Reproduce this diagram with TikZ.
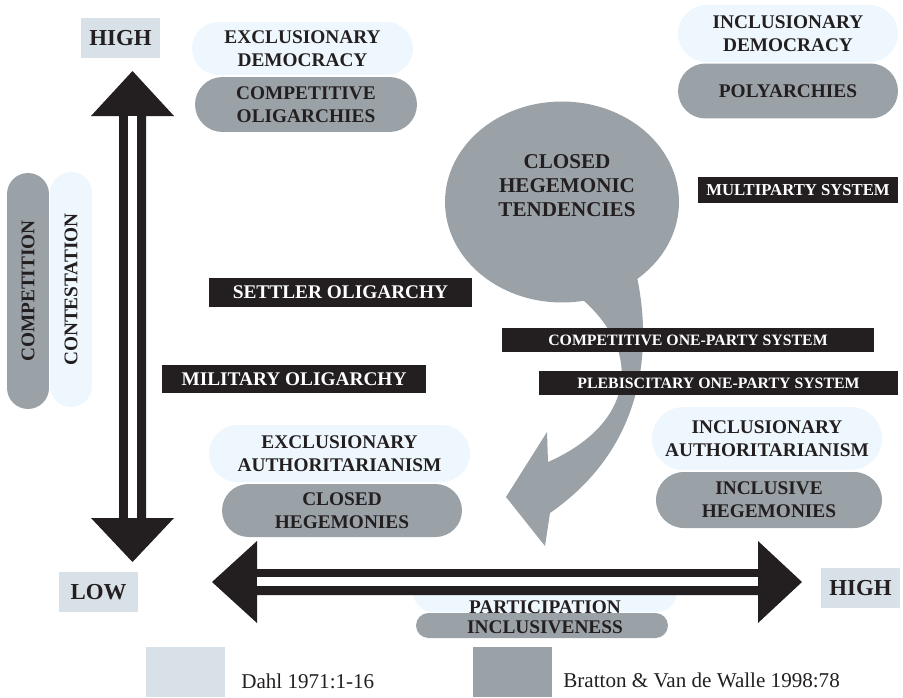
\documentclass[tikz,border=0pt]{standalone}
\usepackage{fontspec}
\setmainfont{Liberation Serif}
\usepackage{xcolor}
\usepackage{tikz}
\usetikzlibrary{shapes.misc,shapes.geometric,positioning,calc}

\definecolor{inkblack}{HTML}{231F20}
\definecolor{palefill}{HTML}{EEF7FD}
\definecolor{midgray}{HTML}{9AA1A7}
\definecolor{scalefill}{HTML}{D9E1E8}

\begin{document}
\begin{tikzpicture}[
    x=0.02cm, y=-0.02cm,
    text=inkblack,
    levelbox/.style={fill=scalefill, minimum width=1.58cm, minimum height=0.8cm, inner sep=0pt, font=\fontsize{13}{15}\selectfont\bfseries},
    regime/.style={rounded rectangle, inner sep=0pt, align=center, font=\fontsize{11}{13}\selectfont\bfseries},
    lightpill/.style={regime, fill=palefill},
    graypill/.style={regime, fill=midgray},
    darkbar/.style={fill=inkblack, text=white, inner sep=0pt, font=\fontsize{11}{13}\selectfont\bfseries},
    smallbar/.style={darkbar, minimum height=0.48cm, font=\fontsize{9}{11}\selectfont\bfseries},
    keybox/.style={minimum width=1.58cm, minimum height=1cm, inner sep=0pt},
    keytext/.style={anchor=west, inner sep=0pt, font=\fontsize{12}{14}\selectfont},
    axisfill/.style={fill=inkblack}
]
    \useasboundingbox (0,0) rectangle (903,697);

    % axis ends
    \coordinate (vhigh) at (132.5,71);
    \coordinate (vlow) at (132.5,562);
    \coordinate (hlow) at (212,582);
    \coordinate (hhigh) at (802,582);

    % vertical axis labels
    \node[graypill, rotate=90, minimum width=4.72cm, minimum height=0.84cm] (competition) at (28,291) {COMPETITION};
    \node[lightpill, rotate=90, minimum width=4.70cm, minimum height=0.84cm] (contestation) at (71,289.5) {CONTESTATION};

    % regime types
    \node[lightpill, minimum width=4.42cm, minimum height=1.06cm] (exdem) at (302.5,48.5) {EXCLUSIONARY\\DEMOCRACY};
    \node[graypill, minimum width=4.44cm, minimum height=1.10cm] (compolig) at (306,104.5) {COMPETITIVE\\OLIGARCHIES};
    \node[lightpill, minimum width=4.40cm, minimum height=1.14cm] (indem) at (788,33.5) {INCLUSIONARY\\DEMOCRACY};
    \node[graypill, minimum width=4.40cm, minimum height=1.10cm] (polyarch) at (788,91) {POLYARCHIES};
    \node[lightpill, minimum width=4.60cm, minimum height=1.26cm] (inauth) at (767,438.5) {INCLUSIONARY\\AUTHORITARIANISM};
    \node[graypill, minimum width=4.52cm, minimum height=1.12cm] (inheg) at (769,500) {INCLUSIVE\\HEGEMONIES};
    \node[lightpill, minimum width=5.22cm, minimum height=1.14cm] (exauth) at (339.5,453.5) {EXCLUSIONARY\\AUTHORITARIANISM};
    \node[graypill, minimum width=4.80cm, minimum height=1.06cm] (clheg) at (342,510.5) {CLOSED\\HEGEMONIES};
    \node[lightpill, minimum width=5.28cm, minimum height=0.80cm] (partic) at (545,592) {};
    \node[graypill, minimum width=5.04cm, minimum height=0.50cm] (inclus) at (542,625.5) {};

    % speech bubble with curved tail
    \node[ellipse, fill=midgray, minimum width=4.68cm, minimum height=4.02cm, inner sep=0pt] (tend) at (562,202) {};
    \fill[midgray] (635,268) .. controls (650,330) and (655,440) .. (550,513)
        -- (545,546) -- (506,497) -- (547,432) -- (548,462)
        .. controls (632,425) and (645,355) .. (583,300) -- cycle;
    \node[align=center, inner sep=0pt, font=\fontsize{12}{13.6}\selectfont\bfseries] (tendtext) at (567,186) {CLOSED\\HEGEMONIC\\TENDENCIES};

    % party systems
    \node[darkbar, minimum width=4.00cm, minimum height=0.52cm, font=\fontsize{9.5}{11}\selectfont\bfseries] (multi) at (798,190) {MULTIPARTY SYSTEM};
    \node[darkbar, minimum width=5.26cm, minimum height=0.58cm] (settler) at (340.5,292.5) {SETTLER OLIGARCHY};
    \node[darkbar, minimum width=5.28cm, minimum height=0.56cm] (military) at (294,379) {MILITARY OLIGARCHY};
    \node[smallbar, minimum width=7.44cm] (compone) at (688,340) {COMPETITIVE ONE-PARTY SYSTEM};
    \node[smallbar, minimum width=7.18cm] (pleb) at (718.5,383) {PLEBISCITARY ONE-PARTY SYSTEM};

    % axes
    \fill[axisfill] (vhigh) -- ++(41.5,45) -- ++(-28,0) -- ++(0,402) -- ++(28,0) -- (vlow)
        -- ++(-41.5,-44) -- ++(28,0) -- ++(0,-402) -- ++(-28,0) -- cycle;
    \fill[white] ($(vhigh)+(-4.5,45)$) rectangle ($(vlow)+(4.5,-44)$);
    \fill[axisfill] (hlow) -- ++(45,-41) -- ++(0,28) -- ++(501,0) -- ++(0,-28) -- (hhigh)
        -- ++(-44,41) -- ++(0,-28) -- ++(-501,0) -- ++(0,28) -- cycle;
    \fill[white] ($(hlow)+(45,-5)$) rectangle ($(hhigh)+(-44,4)$);

    \node[align=center, inner sep=0pt, font=\fontsize{11}{11.3}\selectfont\bfseries] (partlabel) at (545,617) {PARTICIPATION\\INCLUSIVENESS};

    \node[levelbox] (highV) at (120.5,38) {HIGH};
    \node[levelbox] (lowV) at (98.5,592) {LOW};
    \node[levelbox] (highH) at (860.5,588) {HIGH};

    % key
    \node[keybox, fill=scalefill] (dahlsq) at (185.5,672) {};
    \node[keytext] (dahl) at (241,681) {Dahl 1971:1-16};
    \node[keybox, fill=midgray] (brattsq) at (512.5,672) {};
    \node[keytext] (bratt) at (563,680) {Bratton \& Van de Walle 1998:78};
\end{tikzpicture}
\end{document}
